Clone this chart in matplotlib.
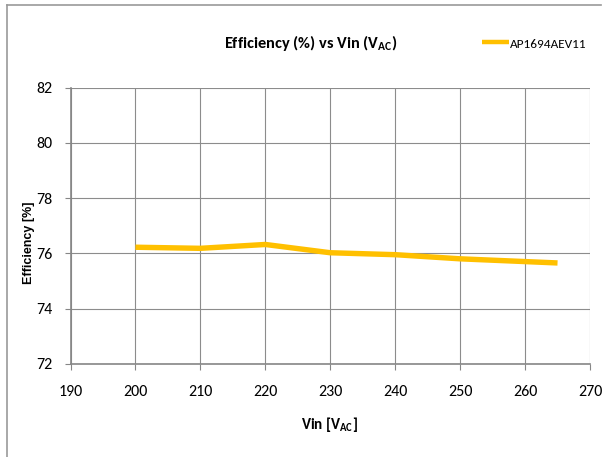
import matplotlib
matplotlib.use("Agg")
import matplotlib.pyplot as plt
from matplotlib.lines import Line2D

# values
vin = [200, 210, 220, 230, 240, 250, 260, 265]
efficiency = [76.22, 76.18, 76.32, 76.02, 75.95, 75.80, 75.70, 75.65]
series_name = "AP1694AEV11"
x_ticks = [190, 200, 210, 220, 230, 240, 250, 260, 270]
y_ticks = [72, 74, 76, 78, 80, 82]

plt.rcParams["font.family"] = ["Carlito", "DejaVu Sans"]
plt.rcParams["mathtext.fontset"] = "custom"
plt.rcParams["mathtext.rm"] = "Carlito:bold"

W, H = 606, 457
fig = plt.figure(figsize=(W / 100, H / 100), dpi=100)


def fx(px):
    return px / W


def fy(py):
    return 1 - py / H


ax = fig.add_axes([fx(70.5), fy(363.7), fx(590) - fx(70.5), fy(87.7) - fy(363.7)])

ax.plot(vin, efficiency, color="#FFC000", lw=3.9, solid_joinstyle="round",
        solid_capstyle="butt", zorder=3)

ax.set_xlim(190, 270)
ax.set_ylim(72, 82)
ax.set_xticks(x_ticks)
ax.set_yticks(y_ticks)
ax.grid(True, color="#8c8c8c", lw=0.8)
ax.set_axisbelow(True)
for side in ["top", "right"]:
    ax.spines[side].set_visible(False)
for side in ["left", "bottom"]:
    ax.spines[side].set_color("#868686")
    ax.spines[side].set_linewidth(1.2)
ax.tick_params(axis="both", colors="#868686", labelcolor="black", labelsize=11.5,
               length=4, width=0.8)
ax.tick_params(axis="x", pad=11)
ax.tick_params(axis="y", pad=9)

# titles and labels
fig.text(fx(311), fy(43), r"Efficiency (%) vs Vin (V$_{\mathregular{AC}}$)",
         ha="center", va="center", fontsize=11.8, fontweight="bold")
fig.text(fx(329), fy(425), r"Vin [V$_{\mathregular{AC}}$]",
         ha="center", va="center", fontsize=11, fontweight="bold")
fig.text(fx(29), fy(243), "Efficiency [%]", rotation=90, ha="center",
         va="center", fontsize=9, fontweight="bold",
         family=["Liberation Sans", "DejaVu Sans"])

# legend entry
fig.add_artist(Line2D([fx(482), fx(509)], [fy(42), fy(42)], color="#FFC000",
                      lw=3.2, solid_capstyle="butt"))
fig.text(fx(510), fy(44), series_name, ha="left", va="center", fontsize=9.5)

# chart area border
fig.add_artist(Line2D([fx(7), fx(601)], [fy(5), fy(5)], color="#999999", lw=1.2))
fig.add_artist(Line2D([fx(7), fx(7)], [fy(5), fy(460)], color="#999999", lw=1.2))

fig.savefig("out.png", dpi=100)
